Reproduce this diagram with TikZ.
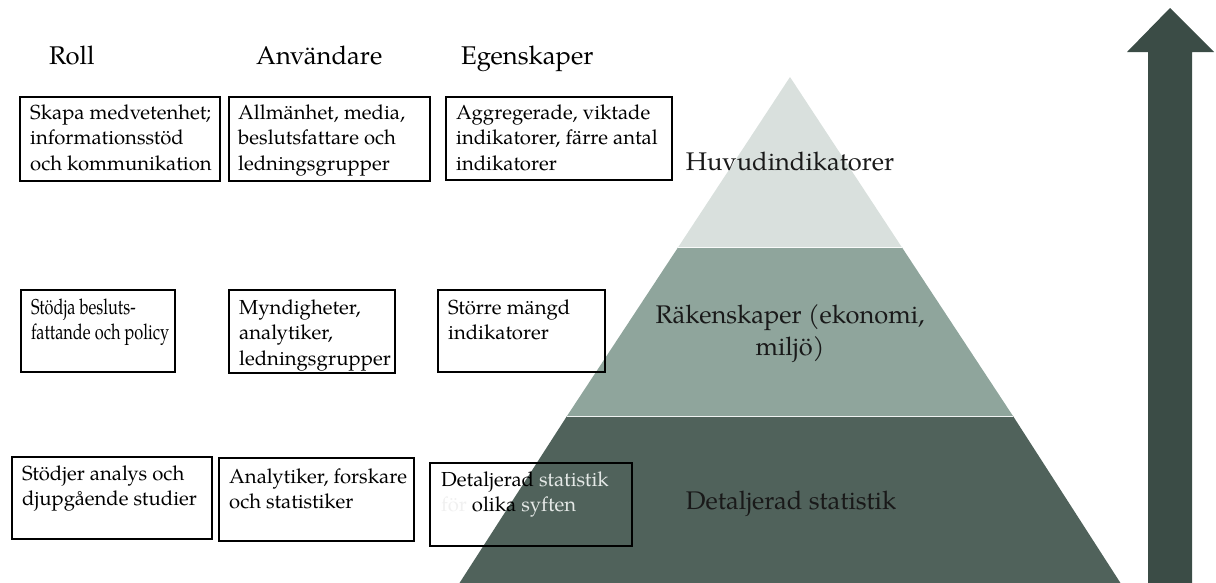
\documentclass[tikz,border=0pt]{standalone}
\usepackage{fontspec}
\setmainfont{TeX Gyre Pagella}
\newfontfamily\condfont{TeX Gyre Pagella}[FakeStretch=0.76]
\definecolor{toplayer}{RGB}{217,224,221}
\definecolor{midlayer}{RGB}{143,165,156}
\definecolor{botlayer}{RGB}{80,98,91}
\definecolor{arrowcol}{RGB}{59,76,70}
\definecolor{paletext}{RGB}{228,232,230}
\tikzset{
  infobox/.style={draw=black, line width=1.1pt},
  boxtext/.style={anchor=base west, inner sep=0pt, align=left,
    font=\fontsize{20.3}{25.5}\selectfont},
  headtext/.style={anchor=base west, inner sep=0pt, font=\fontsize{25.6}{30}\selectfont},
  pyrtext/.style={anchor=base, inner sep=0pt, font=\fontsize{25.5}{32}\selectfont, text=black!90},
  layer/.style={draw=white, line width=1.5pt}
}
\begin{document}
\begin{tikzpicture}[x=1pt,y=-1pt]
\useasboundingbox (0,0) rectangle (1216,582);
\begin{scope}
\clip (0,0) rectangle (1216,582);
% pyramid layers
\fill[botlayer] (567.0,416) -- (1013.0,416) -- (1125,590) -- (455,590) -- cycle;
\draw[layer] (567.0,416) -- (1013.0,416);
\fill[midlayer] (678.3,247) -- (901.7,247) -- (1013.0,416) -- (567.0,416) -- cycle;
\draw[layer] (678.3,247) -- (901.7,247);
\fill[toplayer] (790,77) -- (901.7,247) -- (678.3,247) -- cycle;
% arrow
\fill[arrowcol] (1170,8) -- (1214,52) -- (1192,52) -- (1192,590) -- (1148,590) -- (1148,52) -- (1127,52) -- cycle;
\end{scope}

% headers
\node[headtext] (hroll) at (49,64) {Roll};
\node[headtext] (hanv) at (256,64) {Användare};
\node[headtext] (hegen) at (461,64) {Egenskaper};

% pyramid labels
\node[pyrtext] (phuvud) at (790,170) {Huvudindikatorer};
\node[pyrtext] (prak1) at (790,323) {Räkenskaper (ekonomi,};
\node[pyrtext] (prak2) at (790,355) {miljö)};
\node[pyrtext] (pdet) at (791,509) {Detaljerad statistik};

% row 1 (anchor = baseline of the last line)
\draw[infobox] (20,97) rectangle (220,181);
\node[boxtext] (r1a) at (30,170) {Skapa medvetenhet;\\informationsstöd\\och kommunikation};
\draw[infobox] (229,97) rectangle (430,181);
\node[boxtext] (r1b) at (238,170) {Allmänhet, media,\\beslutsfattare och\\ledningsgrupper};
\draw[infobox] (446,97) rectangle (672,180);
\node[boxtext] (r1c) at (456,170) {Aggregerade, viktade\\indikatorer, färre antal\\indikatorer};

% row 2
\draw[infobox] (21,290) rectangle (175,372);
\node[boxtext, font=\condfont\fontsize{21.5}{25.5}\selectfont] (r2a) at (31,339.5) {Stödja besluts-\\fattande och policy};
\draw[infobox] (229,290) rectangle (395,373);
\node[boxtext] (r2b) at (239,365) {Myndigheter,\\analytiker,\\ledningsgrupper};
\draw[infobox] (438,290) rectangle (605,372);
\node[boxtext] (r2c) at (448,339.5) {Större mängd\\indikatorer};

% row 3
\draw[infobox] (12,457) rectangle (212,539);
\node[boxtext] (r3a) at (22,505.5) {Stödjer analys och\\djupgående studier};
\draw[infobox] (219,458) rectangle (414,541);
\node[boxtext] (r3b) at (229,508.5) {Analytiker, forskare\\och statistiker};
\draw[infobox] (430,463) rectangle (632,546);
\node[boxtext] (r3c) at (441,511.5) {Detaljerad \textcolor{paletext}{statistik}\\\textcolor{black!6}{för} olika \textcolor{paletext}{syften}};
\end{tikzpicture}
\end{document}
